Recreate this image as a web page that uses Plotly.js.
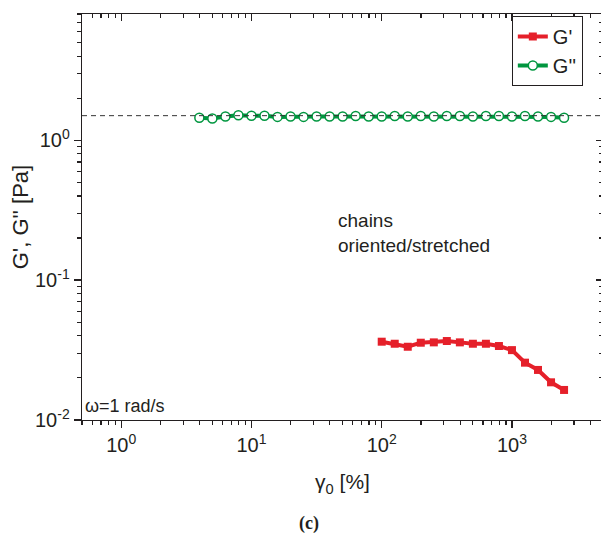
<!DOCTYPE html>
<html>
<head>
<meta charset="utf-8">
<script src="https://cdn.plot.ly/plotly-3.0.1.min.js"></script>
<style>
  html, body { margin: 0; padding: 0; overflow: hidden; background: #fff; }
  #chart { width: 604px; height: 533px; }
</style>
</head>
<body>
<div id="chart"></div>
<script>
// Strain amplitude sweep at omega = 1 rad/s
const strainGp = [100, 125.9, 158.5, 199.5, 251.2, 316.2, 398.1, 501.2, 631.0, 794.3, 1000, 1258.9, 1584.9, 1995.3, 2511.9];
const gPrime = [0.0363, 0.0351, 0.0334, 0.0357, 0.0359, 0.0367, 0.0359, 0.0351, 0.0351, 0.0338, 0.0316, 0.0257, 0.0228, 0.0186, 0.0164];

const strainGpp = [3.98, 5.01, 6.31, 7.94, 10.0, 12.59, 15.85, 19.95, 25.12, 31.62, 39.81, 50.12, 63.10, 79.43,
  100, 125.9, 158.5, 199.5, 251.2, 316.2, 398.1, 501.2, 631.0, 794.3, 1000, 1258.9, 1584.9, 1995.3, 2511.9];
const gDoublePrime = [1.45, 1.43, 1.48, 1.51, 1.50, 1.50, 1.47, 1.48, 1.47, 1.48, 1.48, 1.48, 1.49, 1.48,
  1.48, 1.49, 1.48, 1.49, 1.48, 1.49, 1.49, 1.48, 1.49, 1.49, 1.48, 1.49, 1.48, 1.47, 1.45];

// plateau level of G'' (dashed guide)
const plateauLevel = 1.5;

const xTickVals = [1, 10, 100, 1000];
const xTickText = ['10<sup>0</sup>', '10<sup>1</sup>', '10<sup>2</sup>', '10<sup>3</sup>'];
const yTickVals = [0.01, 0.1, 1];
const yTickText = ['10<sup>-2</sup>', '10<sup>-1</sup>', '10<sup>0</sup>'];

const xRange = [0.5, 5000];
const yRange = [0.01, 8];

// minor ticks at 2..9 of every decade
function minorTicks(lo, hi) {
  const out = [];
  for (let e = Math.floor(Math.log10(lo)); e <= Math.ceil(Math.log10(hi)); e++) {
    for (let m = 2; m <= 9; m++) {
      const v = m * Math.pow(10, e);
      if (v >= lo && v <= hi) out.push(v);
    }
  }
  return out;
}

const RED = '#e5202a';
const GREEN = '#00963f';
const INK = '#231f20';
const FONT = 'Liberation Sans, Arial, sans-serif';

const traces = [
  {
    x: strainGp, y: gPrime, name: "G'", type: 'scatter', mode: 'lines+markers',
    line: { color: RED, width: 4 },
    marker: { symbol: 'square', size: 8, color: RED }
  },
  {
    x: strainGpp, y: gDoublePrime, name: "G''", type: 'scatter', mode: 'lines+markers',
    line: { color: GREEN, width: 4 },
    marker: { symbol: 'circle', size: 9, color: '#ffffff', line: { color: GREEN, width: 1.5 } }
  },
  // carrier for the mirrored top/right frame axes
  { x: [], y: [], xaxis: 'x2', yaxis: 'y2', showlegend: false, hoverinfo: 'skip', type: 'scatter' }
];

const lx = xRange.map(Math.log10);
const ly = yRange.map(Math.log10);

const baseAxis = {
  type: 'log', showgrid: false, zeroline: false,
  showline: true, linecolor: INK, linewidth: 1.3,
  tickcolor: INK, tickwidth: 1.3, ticklen: 7,
  tickmode: 'array',
  tickfont: { family: FONT, size: 20, color: INK }
};

const layout = {
  width: 604, height: 533,
  margin: { l: 82, r: 1, t: 14, b: 113 },
  paper_bgcolor: '#fff', plot_bgcolor: '#fff',
  font: { family: FONT, color: INK },
  xaxis: Object.assign({}, baseAxis, {
    range: lx, ticks: 'outside', tickvals: xTickVals, ticktext: xTickText,
    minor: { tickmode: 'array', tickvals: minorTicks(xRange[0], xRange[1]), ticks: 'outside', ticklen: 4, tickcolor: INK, tickwidth: 1.2 },
    title: { text: 'γ<sub>0</sub> [%]', font: { family: FONT, size: 21, color: INK }, standoff: 19 }
  }),
  yaxis: Object.assign({}, baseAxis, {
    range: ly, ticks: 'outside', tickvals: yTickVals, ticktext: yTickText,
    ticklabelstandoff: 0,
    minor: { tickmode: 'array', tickvals: minorTicks(yRange[0], yRange[1]), ticks: 'outside', ticklen: 4, tickcolor: INK, tickwidth: 1.2 },
    title: { text: "G', G'' [Pa]", font: { family: FONT, size: 22, color: INK }, standoff: 0 }
  }),
  xaxis2: Object.assign({}, baseAxis, {
    overlaying: 'x', side: 'top', anchor: 'y2', range: lx, ticks: 'inside', tickvals: xTickVals,
    showticklabels: false,
    minor: { tickmode: 'array', tickvals: minorTicks(xRange[0], xRange[1]), ticks: 'inside', ticklen: 4, tickcolor: INK, tickwidth: 1.2 }
  }),
  yaxis2: Object.assign({}, baseAxis, {
    overlaying: 'y', side: 'right', anchor: 'x2', range: ly, ticks: 'inside', tickvals: yTickVals,
    showticklabels: false,
    minor: { tickmode: 'array', tickvals: minorTicks(yRange[0], yRange[1]), ticks: 'inside', ticklen: 4, tickcolor: INK, tickwidth: 1.2 }
  }),
  showlegend: true,
  legend: {
    x: 0.825, xanchor: 'left', y: 0.995, yanchor: 'top',
    bgcolor: '#fff', bordercolor: INK, borderwidth: 1,
    font: { family: FONT, size: 20, color: INK },
    tracegroupgap: 0
  },
  shapes: [
    {
      type: 'line', xref: 'paper', x0: 0, x1: 1, yref: 'y', y0: plateauLevel, y1: plateauLevel,
      line: { color: '#333', width: 1, dash: '5px,4px' }, layer: 'above'
    }
  ],
  annotations: [
    {
      xref: 'paper', yref: 'paper', x: 0.487, y: 0.46, xanchor: 'left', yanchor: 'middle', align: 'left',
      text: 'chains<br>oriented/stretched', showarrow: false,
      font: { family: FONT, size: 19, color: INK }
    },
    {
      xref: 'paper', yref: 'paper', x: 0.002, y: 0.034, xanchor: 'left', yanchor: 'middle',
      text: 'ω=1 rad/s', showarrow: false,
      font: { family: FONT, size: 18, color: INK }
    },
    {
      xref: 'paper', yref: 'paper', x: (309 - 82) / 521, y: -0.256, xanchor: 'center', yanchor: 'middle',
      text: '<b>(c)</b>', showarrow: false,
      font: { family: 'Liberation Serif, Times New Roman, serif', size: 18, color: INK }
    }
  ]
};

Plotly.newPlot('chart', traces, layout, { staticPlot: true, displayModeBar: false });
</script>
</body>
</html>
